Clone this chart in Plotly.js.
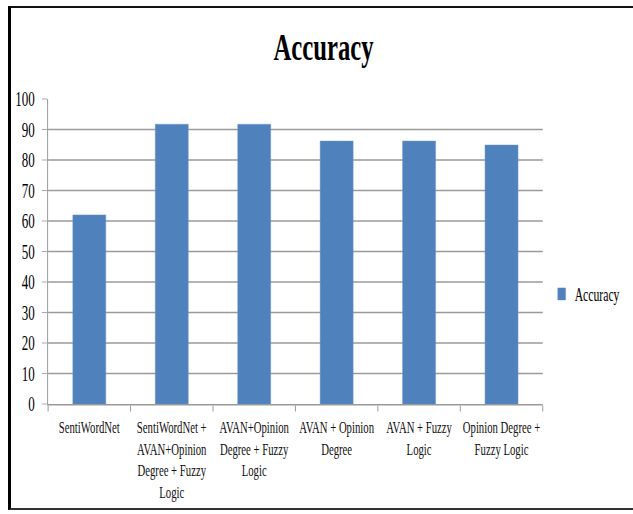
<!DOCTYPE html>
<html>
<head>
<meta charset="utf-8">
<script src="https://cdn.plot.ly/plotly-3.0.1.min.js"></script>
<style>
  html, body { margin: 0; padding: 0; background: #fff; overflow: hidden; }
  #page { position: relative; width: 633px; height: 514px; overflow: hidden; background: #fff; }
  /* outer frame around the chart */
  #frame {
    position: absolute; left: 8px; top: 6px; width: 700px; height: 504px;
    border-left: 3px solid #000; border-top: 2px solid #111; border-bottom: 2px solid #333;
    box-sizing: border-box; pointer-events: none; z-index: 2;
  }
  /* chart is laid out wide and narrowed horizontally for a condensed look */
  #chart { position: absolute; left: 0; top: 0; width: 974px; height: 514px;
           transform: scaleX(0.65); transform-origin: 0 0; }
</style>
</head>
<body>
<div id="page">
  <div id="chart"></div>
  <div id="frame"></div>
</div>
<script>
// Accuracy of each sentiment method (%)
const methods = [
  "SentiWordNet",
  "SentiWordNet +<br>AVAN+Opinion<br>Degree + Fuzzy<br>Logic",
  "AVAN+Opinion<br>Degree + Fuzzy<br>Logic",
  "AVAN + Opinion<br>Degree",
  "AVAN + Fuzzy<br>Logic",
  "Opinion Degree +<br>Fuzzy Logic"
];
const accuracy = [62, 91.7, 91.7, 86.2, 86.2, 84.9];
const yTicks = [0, 10, 20, 30, 40, 50, 60, 70, 80, 90, 100];

const serif = '"Liberation Serif", "Times New Roman", serif';

const trace = {
  type: 'bar',
  name: 'Accuracy',
  x: methods,
  y: accuracy,
  marker: { color: '#4f81bd', line: { color: '#6a95c8', width: 0.6 } },
  hoverinfo: 'x+y'
};

const layout = {
  width: 974,
  height: 514,
  margin: { l: 74, r: 139, t: 99, b: 110 },
  paper_bgcolor: 'rgba(0,0,0,0)',
  plot_bgcolor: '#fff',
  bargap: 0.6,
  title: {
    text: 'Accuracy',
    font: { family: serif, size: 38, color: '#000', weight: 700 },
    xref: 'container', x: 0.511, xanchor: 'center',
    yref: 'container', y: 1 - 33 / 514, yanchor: 'top'
  },
  xaxis: {
    type: 'category',
    showline: true, linecolor: '#999', linewidth: 1.5,
    ticks: 'outside', tickson: 'boundaries', ticklen: 6, tickwidth: 1.5, tickcolor: '#999',
    showgrid: false,
    tickangle: 0,
    tickfont: { family: serif, size: 16.5, color: '#111' },
    ticklabelstandoff: 8,
    fixedrange: true
  },
  yaxis: {
    range: [0, 100],
    tickvals: yTicks,
    showline: true, linecolor: '#999', linewidth: 1.5,
    ticks: 'outside', ticklen: 8, tickwidth: 1, tickcolor: '#999',
    showgrid: true, gridcolor: '#9a9a9a', gridwidth: 1.4,
    zeroline: false,
    tickfont: { family: serif, size: 20, color: '#000' },
    ticklabelstandoff: 7,
    fixedrange: true
  },
  showlegend: true,
  legend: {
    x: 1.012, xanchor: 'left',
    y: 0.36, yanchor: 'middle',
    font: { family: serif, size: 18, color: '#000' },
    bgcolor: 'rgba(0,0,0,0)', borderwidth: 0
  }
};

Plotly.newPlot('chart', [trace], layout, { displayModeBar: false, staticPlot: true });
</script>
</body>
</html>
